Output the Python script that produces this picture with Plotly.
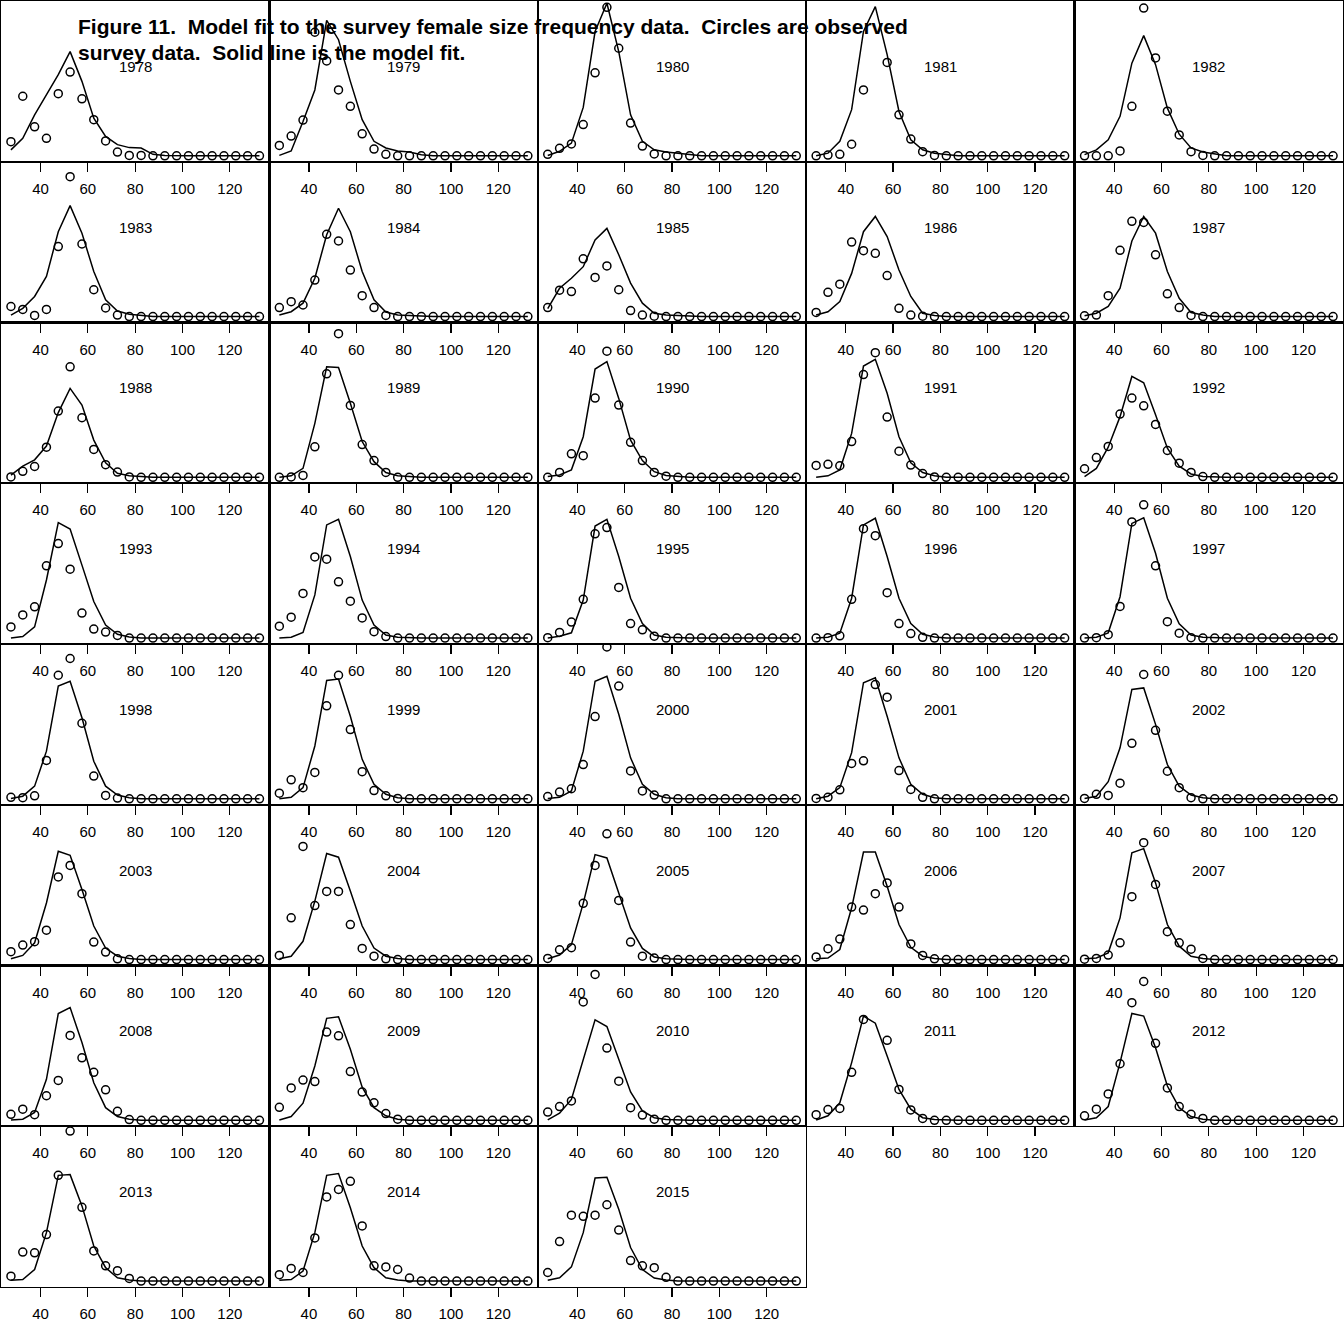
import plotly.graph_objects as go

bins = [27.5, 32.5, 37.5, 42.5, 47.5, 52.5, 57.5, 62.5, 67.5, 72.5, 77.5,
        82.5, 87.5, 92.5, 97.5, 102.5, 107.5, 112.5, 117.5, 122.5, 127.5, 132.5]
tick_vals = [40, 60, 80, 100, 120]
years = [1978, 1979, 1980, 1981, 1982, 1983, 1984, 1985, 1986, 1987,
         1988, 1989, 1990, 1991, 1992, 1993, 1994, 1995, 1996, 1997,
         1998, 1999, 2000, 2001, 2002, 2003, 2004, 2005, 2006, 2007,
         2008, 2009, 2010, 2011, 2012, 2013, 2014, 2015]

obs_1978 = [0.038, 0.160, 0.078, 0.047, 0.167, 0.225, 0.153, 0.097, 0.040, 0.010, 0.001, 0.001, 0, 0, 0, 0, 0, 0, 0, 0, 0, 0]
fit_1978 = [0.016, 0.047, 0.110, 0.164, 0.218, 0.280, 0.200, 0.101, 0.052, 0.030, 0.022, 0.021, 0.004, 0.001, 0, 0, 0, 0, 0, 0, 0, 0]
obs_1979 = [0.028, 0.053, 0.096, 0.332, 0.255, 0.177, 0.133, 0.059, 0.018, 0.004, 0, 0, 0, 0, 0, 0, 0, 0, 0, 0, 0, 0]
fit_1979 = [0.001, 0.013, 0.092, 0.177, 0.364, 0.312, 0.200, 0.097, 0.039, 0.021, 0.013, 0.010, 0.003, 0, 0, 0, 0, 0, 0, 0, 0, 0]
obs_1980 = [0.004, 0.020, 0.032, 0.084, 0.223, 0.399, 0.289, 0.088, 0.026, 0.005, 0, 0, 0, 0, 0, 0, 0, 0, 0, 0, 0, 0]
fit_1980 = [0.001, 0.012, 0.034, 0.130, 0.334, 0.410, 0.280, 0.110, 0.039, 0.016, 0.010, 0.007, 0.003, 0, 0, 0, 0, 0, 0, 0, 0, 0]
obs_1981 = [0, 0.002, 0.004, 0.031, 0.177, 0.450, 0.251, 0.110, 0.045, 0.011, 0.001, 0, 0, 0, 0, 0, 0, 0, 0, 0, 0, 0]
fit_1981 = [0, 0.007, 0.039, 0.124, 0.334, 0.401, 0.272, 0.119, 0.043, 0.016, 0.007, 0.003, 0, 0, 0, 0, 0, 0, 0, 0, 0, 0]
obs_1982 = [0, 0, 0, 0.013, 0.133, 0.397, 0.263, 0.120, 0.056, 0.011, 0.001, 0, 0, 0, 0, 0, 0, 0, 0, 0, 0, 0]
fit_1982 = [0.003, 0.016, 0.043, 0.106, 0.249, 0.323, 0.245, 0.128, 0.058, 0.021, 0.010, 0.004, 0, 0, 0, 0, 0, 0, 0, 0, 0, 0]
obs_1983 = [0.027, 0.019, 0.003, 0.019, 0.188, 0.376, 0.195, 0.072, 0.023, 0.004, 0, 0, 0, 0, 0, 0, 0, 0, 0, 0, 0, 0]
fit_1983 = [0.004, 0.022, 0.054, 0.108, 0.228, 0.298, 0.224, 0.121, 0.045, 0.015, 0.006, 0.003, 0, 0, 0, 0, 0, 0, 0, 0, 0, 0]
obs_1984 = [0.024, 0.040, 0.031, 0.098, 0.221, 0.203, 0.125, 0.056, 0.024, 0.003, 0, 0, 0, 0, 0, 0, 0, 0, 0, 0, 0, 0]
fit_1984 = [0.004, 0.013, 0.036, 0.103, 0.220, 0.291, 0.228, 0.121, 0.045, 0.012, 0.004, 0.002, 0, 0, 0, 0, 0, 0, 0, 0, 0, 0]
obs_1985 = [0.024, 0.071, 0.067, 0.155, 0.105, 0.136, 0.072, 0.016, 0.004, 0.001, 0, 0, 0, 0, 0, 0, 0, 0, 0, 0, 0, 0]
fit_1985 = [0.021, 0.076, 0.103, 0.134, 0.206, 0.237, 0.166, 0.090, 0.036, 0.009, 0.004, 0.002, 0, 0, 0, 0, 0, 0, 0, 0, 0, 0]
obs_1986 = [0.011, 0.065, 0.087, 0.200, 0.177, 0.170, 0.110, 0.022, 0.004, 0.001, 0, 0, 0, 0, 0, 0, 0, 0, 0, 0, 0, 0]
fit_1986 = [0.004, 0.013, 0.040, 0.116, 0.228, 0.269, 0.215, 0.125, 0.054, 0.009, 0.003, 0, 0, 0, 0, 0, 0, 0, 0, 0, 0, 0]
obs_1987 = [0.002, 0.004, 0.056, 0.178, 0.256, 0.253, 0.166, 0.061, 0.024, 0.003, 0, 0, 0, 0, 0, 0, 0, 0, 0, 0, 0, 0]
fit_1987 = [0.002, 0.009, 0.027, 0.076, 0.203, 0.269, 0.224, 0.121, 0.049, 0.011, 0.004, 0, 0, 0, 0, 0, 0, 0, 0, 0, 0, 0]
obs_1988 = [0.001, 0.016, 0.029, 0.081, 0.178, 0.297, 0.160, 0.075, 0.034, 0.014, 0.001, 0, 0, 0, 0, 0, 0, 0, 0, 0, 0, 0]
fit_1988 = [0.006, 0.030, 0.047, 0.084, 0.174, 0.239, 0.194, 0.100, 0.039, 0.011, 0.004, 0.001, 0, 0, 0, 0, 0, 0, 0, 0, 0, 0]
obs_1989 = [0, 0.001, 0.005, 0.082, 0.278, 0.386, 0.193, 0.088, 0.045, 0.013, 0, 0, 0, 0, 0, 0, 0, 0, 0, 0, 0, 0]
fit_1989 = [0, 0.004, 0.024, 0.145, 0.297, 0.295, 0.199, 0.096, 0.042, 0.013, 0.004, 0.001, 0, 0, 0, 0, 0, 0, 0, 0, 0, 0]
obs_1990 = [0, 0.013, 0.063, 0.058, 0.213, 0.339, 0.194, 0.094, 0.045, 0.013, 0.003, 0, 0, 0, 0, 0, 0, 0, 0, 0, 0, 0]
fit_1990 = [0.002, 0.006, 0.020, 0.109, 0.291, 0.311, 0.212, 0.100, 0.045, 0.015, 0.005, 0.002, 0, 0, 0, 0, 0, 0, 0, 0, 0, 0]
obs_1991 = [0.032, 0.035, 0.031, 0.096, 0.276, 0.335, 0.162, 0.070, 0.033, 0.010, 0.001, 0, 0, 0, 0, 0, 0, 0, 0, 0, 0, 0]
fit_1991 = [0, 0.004, 0.020, 0.118, 0.299, 0.317, 0.226, 0.109, 0.039, 0.013, 0.004, 0, 0, 0, 0, 0, 0, 0, 0, 0, 0, 0]
obs_1992 = [0.023, 0.053, 0.083, 0.170, 0.213, 0.192, 0.142, 0.072, 0.038, 0.013, 0.002, 0, 0, 0, 0, 0, 0, 0, 0, 0, 0, 0]
fit_1992 = [0.002, 0.024, 0.081, 0.163, 0.271, 0.254, 0.168, 0.078, 0.030, 0.009, 0.002, 0, 0, 0, 0, 0, 0, 0, 0, 0, 0, 0]
obs_1993 = [0.030, 0.062, 0.084, 0.194, 0.254, 0.185, 0.067, 0.024, 0.016, 0.007, 0, 0, 0, 0, 0, 0, 0, 0, 0, 0, 0, 0]
fit_1993 = [0, 0.004, 0.030, 0.156, 0.310, 0.293, 0.196, 0.098, 0.035, 0.010, 0.003, 0, 0, 0, 0, 0, 0, 0, 0, 0, 0, 0]
obs_1994 = [0.032, 0.056, 0.120, 0.218, 0.212, 0.151, 0.099, 0.054, 0.017, 0.004, 0, 0, 0, 0, 0, 0, 0, 0, 0, 0, 0, 0]
fit_1994 = [0, 0.002, 0.015, 0.116, 0.304, 0.319, 0.219, 0.102, 0.035, 0.008, 0.002, 0, 0, 0, 0, 0, 0, 0, 0, 0, 0, 0]
obs_1995 = [0.001, 0.015, 0.043, 0.104, 0.280, 0.297, 0.136, 0.039, 0.022, 0.005, 0, 0, 0, 0, 0, 0, 0, 0, 0, 0, 0, 0]
fit_1995 = [0, 0.005, 0.014, 0.102, 0.301, 0.319, 0.219, 0.107, 0.039, 0.008, 0.002, 0, 0, 0, 0, 0, 0, 0, 0, 0, 0, 0]
obs_1996 = [0, 0.001, 0.006, 0.104, 0.294, 0.275, 0.122, 0.039, 0.012, 0.002, 0, 0, 0, 0, 0, 0, 0, 0, 0, 0, 0, 0]
fit_1996 = [0, 0.002, 0.013, 0.107, 0.304, 0.322, 0.219, 0.107, 0.039, 0.010, 0.003, 0, 0, 0, 0, 0, 0, 0, 0, 0, 0, 0]
obs_1997 = [0, 0.001, 0.009, 0.085, 0.312, 0.358, 0.194, 0.044, 0.013, 0.001, 0, 0, 0, 0, 0, 0, 0, 0, 0, 0, 0, 0]
fit_1997 = [0, 0.002, 0.014, 0.111, 0.308, 0.323, 0.228, 0.107, 0.038, 0.008, 0.002, 0, 0, 0, 0, 0, 0, 0, 0, 0, 0, 0]
obs_1998 = [0.004, 0.003, 0.008, 0.103, 0.332, 0.377, 0.203, 0.061, 0.009, 0.002, 0, 0, 0, 0, 0, 0, 0, 0, 0, 0, 0, 0]
fit_1998 = [0.001, 0.007, 0.034, 0.128, 0.303, 0.316, 0.218, 0.101, 0.034, 0.010, 0.003, 0, 0, 0, 0, 0, 0, 0, 0, 0, 0, 0]
obs_1999 = [0.015, 0.051, 0.030, 0.071, 0.250, 0.332, 0.186, 0.073, 0.022, 0.008, 0.001, 0, 0, 0, 0, 0, 0, 0, 0, 0, 0, 0]
fit_1999 = [0, 0.004, 0.030, 0.142, 0.318, 0.322, 0.222, 0.106, 0.039, 0.012, 0.003, 0, 0, 0, 0, 0, 0, 0, 0, 0, 0, 0]
obs_2000 = [0.006, 0.018, 0.027, 0.092, 0.221, 0.408, 0.303, 0.075, 0.021, 0.010, 0, 0, 0, 0, 0, 0, 0, 0, 0, 0, 0, 0]
fit_2000 = [0.001, 0.004, 0.021, 0.128, 0.316, 0.329, 0.227, 0.110, 0.039, 0.012, 0.003, 0, 0, 0, 0, 0, 0, 0, 0, 0, 0, 0]
obs_2001 = [0.001, 0.004, 0.024, 0.095, 0.102, 0.307, 0.273, 0.076, 0.025, 0.004, 0, 0, 0, 0, 0, 0, 0, 0, 0, 0, 0, 0]
fit_2001 = [0, 0.007, 0.030, 0.124, 0.312, 0.325, 0.222, 0.110, 0.039, 0.012, 0.003, 0, 0, 0, 0, 0, 0, 0, 0, 0, 0, 0]
obs_2002 = [0.001, 0.012, 0.009, 0.042, 0.149, 0.334, 0.184, 0.074, 0.030, 0.003, 0, 0, 0, 0, 0, 0, 0, 0, 0, 0, 0, 0]
fit_2002 = [0.001, 0.007, 0.046, 0.137, 0.294, 0.298, 0.200, 0.092, 0.034, 0.010, 0.003, 0, 0, 0, 0, 0, 0, 0, 0, 0, 0, 0]
obs_2003 = [0.021, 0.039, 0.048, 0.079, 0.222, 0.253, 0.177, 0.047, 0.020, 0.002, 0, 0, 0, 0, 0, 0, 0, 0, 0, 0, 0, 0]
fit_2003 = [0.002, 0.011, 0.045, 0.152, 0.291, 0.280, 0.188, 0.090, 0.031, 0.009, 0.003, 0, 0, 0, 0, 0, 0, 0, 0, 0, 0, 0]
obs_2004 = [0.011, 0.112, 0.304, 0.145, 0.183, 0.183, 0.094, 0.030, 0.009, 0.002, 0, 0, 0, 0, 0, 0, 0, 0, 0, 0, 0, 0]
fit_2004 = [0.002, 0.009, 0.049, 0.157, 0.285, 0.275, 0.184, 0.090, 0.031, 0.009, 0.003, 0, 0, 0, 0, 0, 0, 0, 0, 0, 0, 0]
obs_2005 = [0.003, 0.026, 0.032, 0.151, 0.253, 0.338, 0.159, 0.047, 0.009, 0.004, 0, 0, 0, 0, 0, 0, 0, 0, 0, 0, 0, 0]
fit_2005 = [0.002, 0.012, 0.040, 0.151, 0.282, 0.273, 0.179, 0.085, 0.030, 0.007, 0.002, 0, 0, 0, 0, 0, 0, 0, 0, 0, 0, 0]
obs_2006 = [0.007, 0.029, 0.055, 0.141, 0.133, 0.177, 0.206, 0.141, 0.042, 0.011, 0.002, 0, 0, 0, 0, 0, 0, 0, 0, 0, 0, 0]
fit_2006 = [0.002, 0.004, 0.027, 0.139, 0.289, 0.289, 0.197, 0.094, 0.033, 0.009, 0.003, 0, 0, 0, 0, 0, 0, 0, 0, 0, 0, 0]
obs_2007 = [0.001, 0.003, 0.012, 0.045, 0.169, 0.314, 0.202, 0.075, 0.045, 0.028, 0.003, 0, 0, 0, 0, 0, 0, 0, 0, 0, 0, 0]
fit_2007 = [0.002, 0.004, 0.018, 0.112, 0.287, 0.298, 0.206, 0.094, 0.036, 0.009, 0.003, 0, 0, 0, 0, 0, 0, 0, 0, 0, 0, 0]
obs_2008 = [0.016, 0.030, 0.015, 0.066, 0.107, 0.228, 0.168, 0.129, 0.082, 0.024, 0.002, 0, 0, 0, 0, 0, 0, 0, 0, 0, 0, 0]
fit_2008 = [0.001, 0.003, 0.021, 0.110, 0.287, 0.303, 0.209, 0.101, 0.034, 0.010, 0.003, 0, 0, 0, 0, 0, 0, 0, 0, 0, 0, 0]
obs_2009 = [0.035, 0.087, 0.108, 0.104, 0.237, 0.227, 0.131, 0.076, 0.047, 0.018, 0.003, 0, 0, 0, 0, 0, 0, 0, 0, 0, 0, 0]
fit_2009 = [0.001, 0.010, 0.046, 0.146, 0.274, 0.278, 0.191, 0.089, 0.034, 0.012, 0.003, 0, 0, 0, 0, 0, 0, 0, 0, 0, 0, 0]
obs_2010 = [0.022, 0.037, 0.052, 0.318, 0.392, 0.194, 0.105, 0.034, 0.014, 0.003, 0, 0, 0, 0, 0, 0, 0, 0, 0, 0, 0, 0]
fit_2010 = [0.001, 0.019, 0.056, 0.164, 0.270, 0.252, 0.164, 0.076, 0.025, 0.007, 0.002, 0, 0, 0, 0, 0, 0, 0, 0, 0, 0, 0]
obs_2011 = [0.015, 0.029, 0.032, 0.129, 0.271, 0.450, 0.215, 0.083, 0.028, 0.005, 0, 0, 0, 0, 0, 0, 0, 0, 0, 0, 0, 0]
fit_2011 = [0.001, 0.012, 0.047, 0.155, 0.280, 0.261, 0.173, 0.083, 0.030, 0.007, 0.002, 0, 0, 0, 0, 0, 0, 0, 0, 0, 0, 0]
obs_2012 = [0.012, 0.030, 0.071, 0.152, 0.316, 0.373, 0.207, 0.087, 0.037, 0.016, 0.005, 0, 0, 0, 0, 0, 0, 0, 0, 0, 0, 0]
fit_2012 = [0.001, 0.007, 0.037, 0.155, 0.287, 0.280, 0.195, 0.092, 0.034, 0.010, 0.003, 0, 0, 0, 0, 0, 0, 0, 0, 0, 0, 0]
obs_2013 = [0.013, 0.078, 0.076, 0.125, 0.284, 0.403, 0.198, 0.081, 0.041, 0.028, 0.007, 0, 0, 0, 0, 0, 0, 0, 0, 0, 0, 0]
fit_2013 = [0.002, 0.004, 0.031, 0.130, 0.284, 0.286, 0.202, 0.094, 0.036, 0.009, 0.003, 0, 0, 0, 0, 0, 0, 0, 0, 0, 0, 0]
obs_2014 = [0.017, 0.034, 0.023, 0.116, 0.226, 0.246, 0.268, 0.148, 0.041, 0.038, 0.031, 0.008, 0, 0, 0, 0, 0, 0, 0, 0, 0, 0]
fit_2014 = [0.002, 0.004, 0.027, 0.130, 0.284, 0.289, 0.197, 0.094, 0.036, 0.009, 0.003, 0, 0, 0, 0, 0, 0, 0, 0, 0, 0, 0]
obs_2015 = [0.023, 0.106, 0.177, 0.174, 0.177, 0.205, 0.137, 0.055, 0.041, 0.036, 0.010, 0, 0, 0, 0, 0, 0, 0, 0, 0, 0, 0]
fit_2015 = [0.002, 0.009, 0.038, 0.130, 0.277, 0.279, 0.193, 0.090, 0.031, 0.008, 0.003, 0, 0, 0, 0, 0, 0, 0, 0, 0, 0, 0]

observed = [obs_1978, obs_1979, obs_1980, obs_1981, obs_1982, obs_1983, obs_1984, obs_1985,
            obs_1986, obs_1987, obs_1988, obs_1989, obs_1990, obs_1991, obs_1992, obs_1993,
            obs_1994, obs_1995, obs_1996, obs_1997, obs_1998, obs_1999, obs_2000, obs_2001,
            obs_2002, obs_2003, obs_2004, obs_2005, obs_2006, obs_2007, obs_2008, obs_2009,
            obs_2010, obs_2011, obs_2012, obs_2013, obs_2014, obs_2015]
fitted = [fit_1978, fit_1979, fit_1980, fit_1981, fit_1982, fit_1983, fit_1984, fit_1985,
          fit_1986, fit_1987, fit_1988, fit_1989, fit_1990, fit_1991, fit_1992, fit_1993,
          fit_1994, fit_1995, fit_1996, fit_1997, fit_1998, fit_1999, fit_2000, fit_2001,
          fit_2002, fit_2003, fit_2004, fit_2005, fit_2006, fit_2007, fit_2008, fit_2009,
          fit_2010, fit_2011, fit_2012, fit_2013, fit_2014, fit_2015]

title_line1 = "Figure 11.  Model fit to the survey female size frequency data.  Circles are observed"
title_line2 = "survey data.  Solid line is the model fit."

W, H = 1344, 1344
ML, MR, MT, MB = 1, 1, 1, 57
PW, PH = W - ML - MR, H - MT - MB
NCOL, NROW = 5, 8
FONT = "Liberation Sans, Arial, Helvetica, sans-serif"

fig = go.Figure()
annotations = []
for k, yr in enumerate(years):
    r, c = divmod(k, NCOL)
    sfx = "" if k == 0 else str(k + 1)
    fig.add_trace(go.Scatter(
        x=bins, y=fitted[k], mode="lines",
        line=dict(color="black", width=1.5),
        xaxis="x" + sfx, yaxis="y" + sfx, showlegend=False, hoverinfo="skip"))
    fig.add_trace(go.Scatter(
        x=bins, y=observed[k], mode="markers",
        marker=dict(symbol="circle-open", size=8, color="black",
                    line=dict(width=1.5, color="black")),
        xaxis="x" + sfx, yaxis="y" + sfx, showlegend=False, hoverinfo="skip"))
    fig.layout["xaxis" + sfx] = dict(
        domain=[c / NCOL, (c + 1) / NCOL], anchor="y" + sfx,
        range=[23.3, 136.7], tickmode="array", tickvals=tick_vals,
        ticks="outside", ticklen=9, tickwidth=1.2, tickcolor="black",
        showline=True, mirror=True, linecolor="black", linewidth=1.2,
        showgrid=False, zeroline=False, ticklabelstandoff=4,
        automargin=False,
        tickfont=dict(family=FONT, size=15, color="black"))
    fig.layout["yaxis" + sfx] = dict(
        domain=[1 - (r + 1) / NROW, 1 - r / NROW], anchor="x" + sfx,
        range=[-0.016, 0.416], showticklabels=False, ticks="",
        showline=True, mirror=True, linecolor="black", linewidth=1.2,
        showgrid=False, zeroline=False, automargin=False)
    annotations.append(dict(
        x=80, y=0.24, xref="x" + sfx, yref="y" + sfx, text=str(yr),
        showarrow=False, xanchor="center", yanchor="middle",
        font=dict(family=FONT, size=15, color="black")))

def nb(s):
    return s.replace("  ", "\u00a0 ")

annotations.append(dict(
    x=(76 - ML) / PW, y=(MT + PH - 26) / PH, xref="paper", yref="paper",
    text="<b>" + nb(title_line1) + "</b>", showarrow=False,
    xanchor="left", yanchor="middle",
    font=dict(family=FONT, size=21, color="black")))
annotations.append(dict(
    x=(76 - ML) / PW, y=(MT + PH - 52) / PH, xref="paper", yref="paper",
    text="<b>" + nb(title_line2) + "</b>", showarrow=False,
    xanchor="left", yanchor="middle",
    font=dict(family=FONT, size=21, color="black")))

fig.update_layout(
    width=W, height=H,
    margin=dict(l=ML, r=MR, t=MT, b=MB, autoexpand=False),
    paper_bgcolor="white", plot_bgcolor="white",
    annotations=annotations, showlegend=False)

fig.write_html("out.html",
               config={"displayModeBar": False, "staticPlot": True},
               post_script="document.body.style.margin='0';document.body.style.overflow='hidden';")
